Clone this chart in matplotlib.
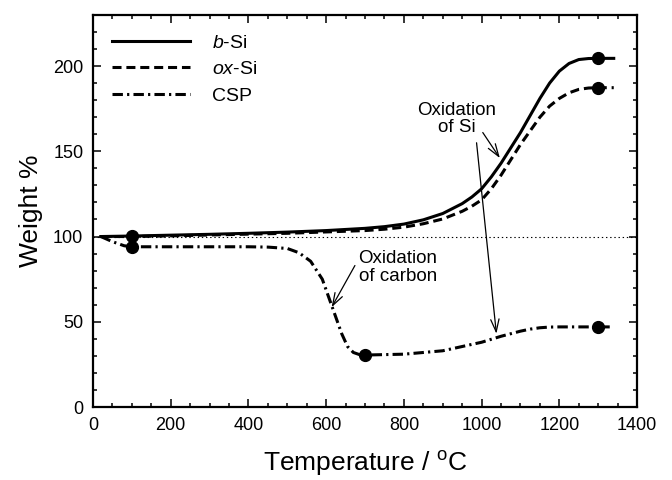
import numpy as np
import matplotlib
matplotlib.use('Agg')
from matplotlib import pylab as plt
from matplotlib.ticker import MultipleLocator

plt.rcParams['font.family'] = ['Liberation Sans', 'DejaVu Sans']
plt.rcParams['mathtext.fontset'] = 'custom'
plt.rcParams['mathtext.rm'] = 'Liberation Sans'
plt.rcParams['mathtext.it'] = 'Liberation Sans:italic'
plt.rcParams['lines.scale_dashes'] = False

# b-Si
t_bsi = [20, 100, 200, 300, 400, 500, 600, 700, 750, 800, 850, 900, 950, 975,
         1000, 1025, 1050, 1100, 1150, 1175, 1200, 1225, 1250, 1275, 1300, 1340]
w_bsi = [100, 100.3, 100.8, 101.3, 101.9, 102.6, 103.5, 104.8, 105.8, 107.3, 109.8, 113.5, 119.3, 123.2,
         128, 135, 143, 161, 181, 190, 197, 201.5, 203.8, 204.4, 204.5, 204.5]

# ox-Si
t_ox = [20, 100, 200, 300, 400, 500, 600, 700, 750, 800, 850, 900, 950, 975,
        1000, 1025, 1050, 1100, 1150, 1175, 1200, 1225, 1250, 1275, 1300, 1340]
w_ox = [100, 100, 100.4, 100.9, 101.4, 101.9, 102.7, 103.5, 104.3, 105.5, 107.5, 110.3, 114.8, 117.8,
        121.5, 128, 136, 154, 170, 176.5, 181, 184.3, 186.3, 187.1, 187.3, 187.3]

# CSP
t_csp = [20, 50, 80, 100, 200, 300, 400, 450, 500, 530, 560, 590, 615, 640, 655, 670, 685, 700,
         800, 900, 1000, 1050, 1100, 1125, 1150, 1175, 1200, 1300, 1340]
w_csp = [100, 97, 94.6, 94, 94, 94, 94, 93.8, 93, 90.5, 85.5, 75, 59, 43, 35.5, 32, 30.8, 30.5,
         31, 33, 38, 41.5, 44.5, 45.7, 46.5, 46.9, 47, 47, 47]

# marked points
mk_bsi_t = [100, 1300]
mk_bsi_w = [100.5, 204.5]
mk_ox_t = [1300]
mk_ox_w = [187.3]
mk_csp_t = [100, 700, 1300]
mk_csp_w = [94, 30.5, 47]

fig = plt.figure(figsize=(6.72, 4.8), dpi=100)
ax = fig.add_axes([0.1384, 0.152, 0.8096, 0.817])

ax.axhline(100, color='black', lw=0.8, linestyle=(0, (1, 2)))

ax.plot(t_bsi, w_bsi, color='black', lw=2.2, label=r'$\mathit{b}$-Si')
ax.plot(t_ox, w_ox, color='black', lw=2.2, dashes=(6.5, 3.5), label=r'$\mathit{ox}$-Si')
ax.plot(t_csp, w_csp, color='black', lw=2.2, dashes=(7.5, 3, 1.6, 3), label='CSP')

ax.plot(mk_bsi_t, mk_bsi_w, 'o', color='black', ms=8.5)
ax.plot(mk_ox_t, mk_ox_w, 'o', color='black', ms=8.5)
ax.plot(mk_csp_t, mk_csp_w, 'o', color='black', ms=8.5)

arrow = dict(arrowstyle='->, head_length=0.9, head_width=0.3', color='black', lw=0.9,
             shrinkA=0, shrinkB=0)
ax.text(935, 169, 'Oxidation\nof Si', ha='center', va='center', fontsize=13.5, linespacing=1.05)
ax.annotate('', xy=(1047, 146), xytext=(1003, 161), arrowprops=arrow)
ax.annotate('', xy=(1038, 43), xytext=(987, 155), arrowprops=arrow)

ax.text(785, 82, 'Oxidation\nof carbon', ha='center', va='center', fontsize=13.5, linespacing=1.05)
ax.annotate('', xy=(614, 58.5), xytext=(674, 83), arrowprops=arrow)

ax.set_xlim(0, 1400)
ax.set_ylim(0, 230)
ax.xaxis.set_major_locator(MultipleLocator(200))
ax.xaxis.set_minor_locator(MultipleLocator(50))
ax.yaxis.set_major_locator(MultipleLocator(50))
ax.yaxis.set_minor_locator(MultipleLocator(10))
ax.tick_params(which='both', direction='in', top=True, right=True, width=1.1, labelsize=13)
ax.tick_params(which='major', length=5.5, pad=7)
ax.tick_params(which='minor', length=3)
for s in ax.spines.values():
    s.set_linewidth(1.6)

ax.set_xlabel('Temperature / $^{\\mathrm{o}}$C', fontsize=19, labelpad=11)
ax.set_ylabel('Weight %', fontsize=19, labelpad=7)

ax.legend(loc='upper left', frameon=False, fontsize=14, handlelength=4.0,
          handletextpad=1.1, labelspacing=0.45, borderaxespad=0.6)

plt.savefig('out.png', dpi=100)
